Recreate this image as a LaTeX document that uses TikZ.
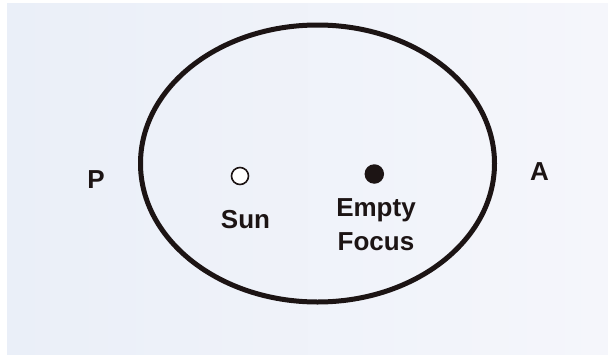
\documentclass[tikz,border=0pt]{standalone}
\usepackage{fontspec}
\setmainfont{Liberation Sans}
\definecolor{paperL}{RGB}{234,239,248}
\definecolor{paperR}{RGB}{245,246,251}
\definecolor{ink}{RGB}{28,20,20}
\tikzset{
  lbl/.style={text=ink, font=\bfseries\fontsize{26}{34}\selectfont, inner sep=0pt, anchor=base},
  orbit/.style={draw=ink, line width=5pt},
  hollow/.style={circle, draw=ink, fill=white, line width=1.6pt, minimum size=17pt, inner sep=0pt},
  solid dot/.style={circle, fill=ink, minimum size=19.5pt, inner sep=0pt}
}
\begin{document}
\begin{tikzpicture}[x=1pt,y=-1pt]
\useasboundingbox (0,0) rectangle (608,354);
\fill[white] (0,0) rectangle (608,354);
\shade[left color=paperL, right color=paperR] (7,3) rectangle (608,354);
\draw[orbit] (317.5,163.5) ellipse [x radius=177pt, y radius=138.5pt];
\node[hollow] (sun) at (240,176) {};
\node[solid dot] (focus) at (374.3,174) {};
\node[lbl] (sunlbl) at (245.5,228.5) {Sun};
\node[lbl] (empty) at (376,216) {Empty};
\node[lbl] (focuslbl) at (376,250) {Focus};
\node[lbl] (P) at (96,188) {P};
\node[lbl] (A) at (539.5,180) {A};
\end{tikzpicture}
\end{document}
